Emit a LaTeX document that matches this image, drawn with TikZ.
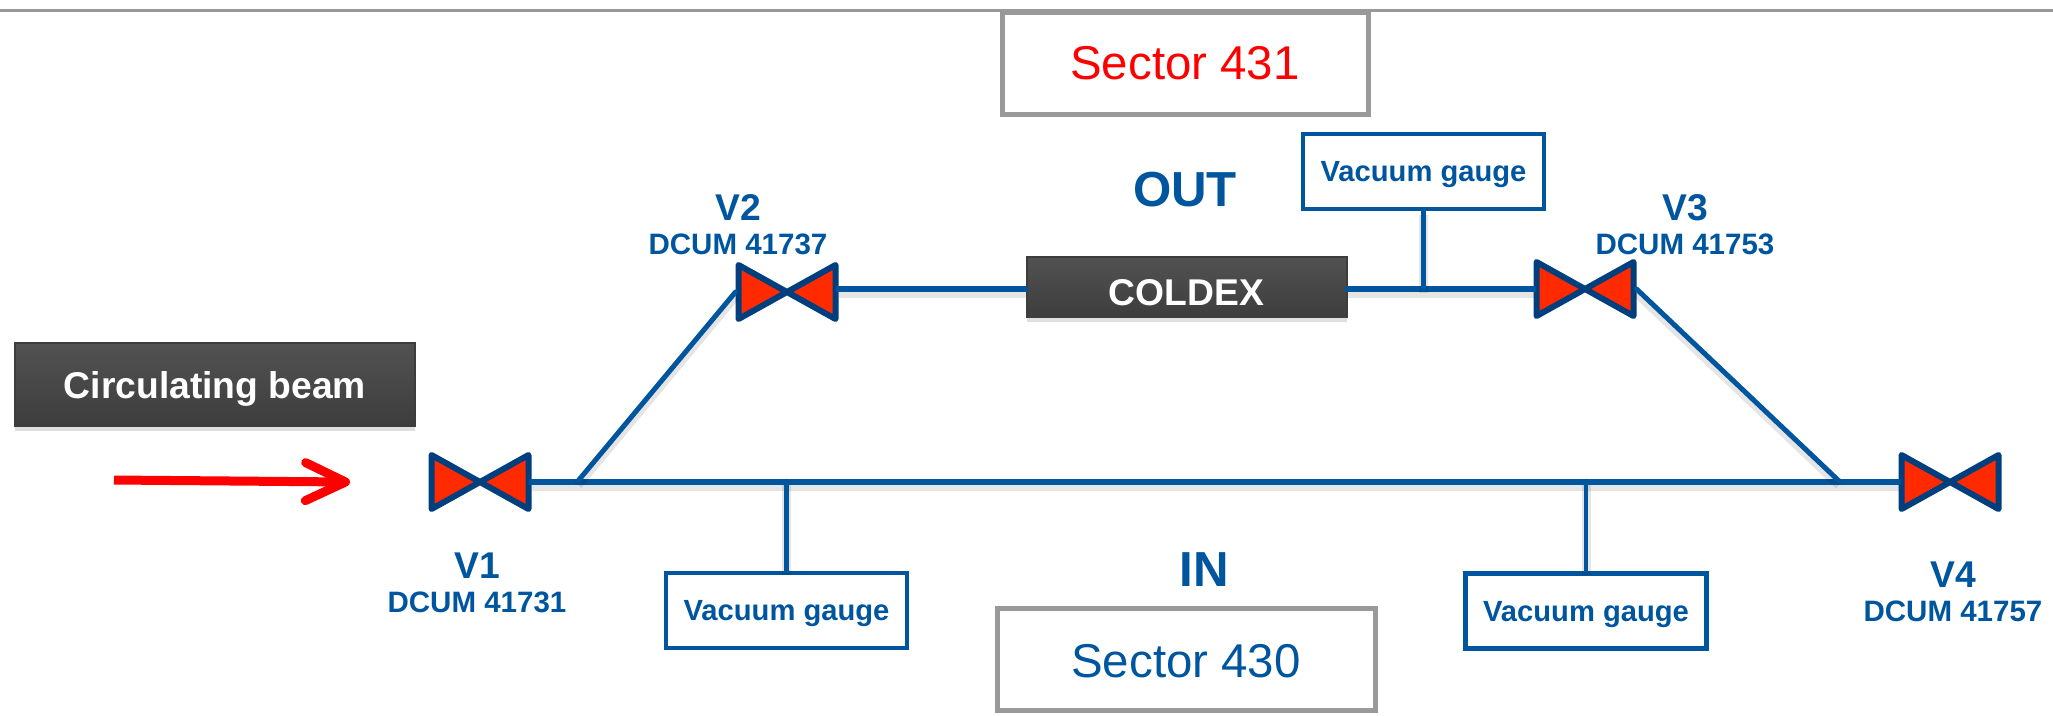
\documentclass[tikz,border=0pt]{standalone}
\usepackage{fontspec}
\setmainfont{Liberation Sans}
\setsansfont{Liberation Sans}
\usetikzlibrary{arrows.meta, positioning, shadows}
\definecolor{cblue}{HTML}{00559F}
\definecolor{cnavy}{HTML}{003F7D}
\definecolor{cred}{HTML}{FF2A00}
\definecolor{cbeam}{HTML}{FF0000}
\definecolor{cgrey}{HTML}{999999}
\definecolor{cdarktop}{HTML}{525252}
\definecolor{cdarkbot}{HTML}{3D3D3D}
\tikzset{
  every picture/.style={font=\sffamily},
  pipe/.style={draw=cblue, line width=.055cm, line cap=round, preaction={draw=black, draw opacity=.10, line width=.09cm, transform canvas={yshift=-.04cm}}},
  sector/.style={draw=cgrey, fill=white, line width=.05cm, minimum width=3.66cm, minimum height=1.02cm, inner sep=0pt, font=\sffamily\fontsize{13.5}{16}\selectfont},
  gauge/.style={draw=cblue, fill=white, line width=.045cm, minimum width=2.41cm, minimum height=.75cm, inner sep=0pt, text=cblue, text depth=0pt, font=\sffamily\bfseries\fontsize{8.3}{10}\selectfont},
  dark/.style={top color=cdarktop, bottom color=cdarkbot, draw=cdarkbot, line width=.02cm, text=white, inner sep=0pt, drop shadow={shadow xshift=0cm, shadow yshift=-.05cm, opacity=.25}, font=\sffamily\bfseries\fontsize{10.6}{12}\selectfont},
  valve/.style={minimum width=1.03cm, minimum height=.6cm, inner sep=0pt, outer sep=0pt, path picture={
      \draw[draw=cnavy, fill=cred, line width=.06cm, line join=round]
        ([shift={(.03,.03)}]path picture bounding box.south west) --
        ([shift={(-.03,-.03)}]path picture bounding box.north east) --
        ([shift={(-.03,.03)}]path picture bounding box.south east) --
        ([shift={(.03,-.03)}]path picture bounding box.north west) -- cycle;}},
  vlabel/.style={text=cblue, align=center, inner sep=0pt, font=\sffamily\bfseries\fontsize{8.4}{9.7}\selectfont},
  side/.style={text=cblue, inner sep=0pt, font=\sffamily\bfseries\fontsize{14}{16}\selectfont},
  beam/.style={-{Straight Barb[length=.4cm, width=.38cm, round]}, draw=cbeam, line width=.09cm},
}
\newcommand{\vname}[1]{{\fontsize{10.6}{9.7}\selectfont #1}}

\begin{document}
\begin{tikzpicture}
  \useasboundingbox (0,0) rectangle (20.53,-7.15);

  % ---- top rule
  \coordinate (ruleL) at (0,-.10);
  \coordinate (ruleR) at (20.53,-.10);
  \draw[draw=cgrey, line width=.03cm] (ruleL) -- (ruleR);

  % ---- sectors
  \node[sector, text=cbeam] (sec431) at (11.85,-.63) {Sector 431};
  \node[sector, text=cblue, minimum width=3.78cm, text height=.38cm] (sec430) at (11.86,-6.59) {Sector 430};
  \node[side] (out) at (11.85,-1.895) {OUT};
  \node[side] (in)  at (12.04,-5.70) {IN};

  % ---- valves
  \node[valve] (v1) at (4.80,-4.82) {};
  \node[valve] (v2) at (7.87,-2.92) {};
  \node[valve] (v3) at (15.85,-2.89) {};
  \node[valve] (v4) at (19.50,-4.82) {};
  \node[vlabel] (lab1) at (4.77,-5.825) {\vname{V1}\\DCUM 41731};
  \node[vlabel] (lab2) at (7.38,-2.25) {\vname{V2}\\DCUM 41737};
  \node[vlabel] (lab3) at (16.85,-2.25) {\vname{V3}\\DCUM 41753};
  \node[vlabel] (lab4) at (19.53,-5.92) {\vname{V4}\\DCUM 41757};

  % ---- boxes
  \node[dark, text height=.37cm, text depth=0pt, minimum width=3.20cm, minimum height=.60cm] (coldex) at (11.865,-2.87) {COLDEX};
  \node[dark, text depth=0pt, minimum width=4.00cm, minimum height=.83cm] (circ) at (2.15,-3.845) {Circulating beam};
  \node[gauge] (gout)  at (14.235,-1.715) {Vacuum gauge};
  \node[gauge] (gin1)  at (7.865,-6.105) {Vacuum gauge};
  \node[gauge] (gin2)  at (15.86,-6.11) {Vacuum gauge};

  % ---- beam
  \coordinate (beamA) at (1.14,-4.80);
  \coordinate (beamB) at (3.50,-4.82);
  \draw[beam] (beamA) -- (beamB);

  % ---- pipes
  \coordinate (j1) at (5.78,-4.81);
  \coordinate (j2) at (18.39,-4.81);
  \draw[pipe] (v1.east) -- (v4.west);
  \draw[pipe, line width=.05cm] (j1) -- (v2.west);
  \draw[pipe, line width=.05cm] (j2) -- (v3.east);
  \draw[pipe] (v2.east |- v3.west) -- (coldex.west |- v3.west);
  \draw[pipe] (coldex.east |- v3.west) -- (v3.west);
  \draw[pipe, line width=.045cm] (gout.south) -- (gout.south |- v3.west);
  \draw[pipe, line width=.045cm] (gin1.north) -- (gin1.north |- j1);
  \draw[pipe, line width=.045cm] (gin2.north) -- (gin2.north |- j1);
\end{tikzpicture}
\end{document}
